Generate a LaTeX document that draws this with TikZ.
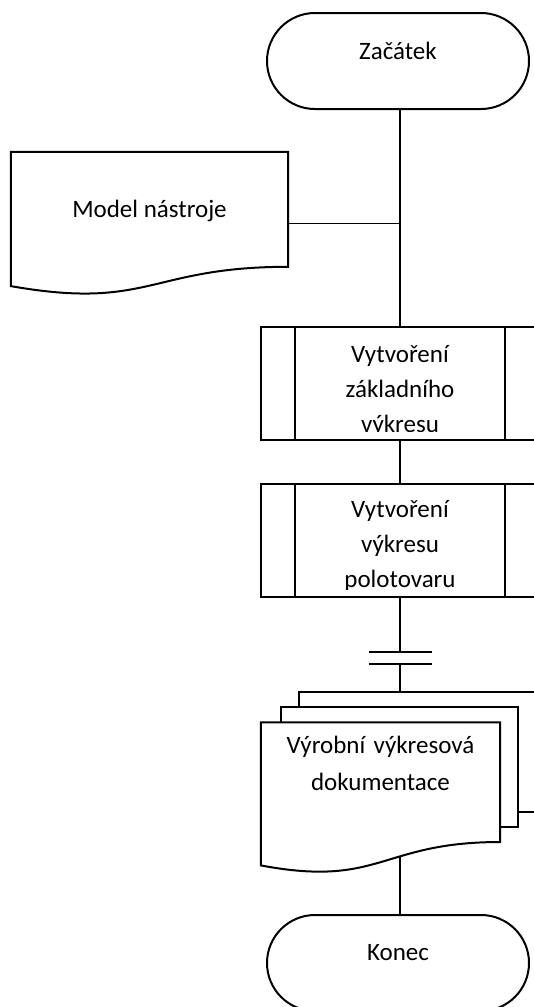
\documentclass[tikz,border=0pt]{standalone}
\usepackage{fontspec}
\setmainfont{Carlito}
\usetikzlibrary{calc}
\tikzset{
  shp/.style={draw,line width=2pt},
  term/.style={shp,rounded corners=48pt,minimum width=262pt,minimum height=96pt,
    inner sep=0pt},
  docbox/.style={inner sep=0pt,minimum width=277pt,minimum height=143.4pt},
  pagebox/.style={inner sep=0pt,minimum width=239pt,minimum height=142.6pt,
    text width=230pt,align=center},
  proc/.style={shp,inner sep=0pt,minimum width=278pt,minimum height=113pt},
  ptext/.style={inner sep=0pt,text width=200pt,align=center},
  wire/.style={line width=2pt},
  thinwire/.style={line width=1pt},
}

\begin{document}
\begin{tikzpicture}[x=1pt,y=-1pt,font=\fontsize{25}{35}\selectfont]
  \useasboundingbox (0,0) rectangle (534,1007);
  \clip (0,0) rectangle (534,1007);

  % terminals and boxes
  \node[term,text height=46pt,text depth=50pt] (start) at (398,61) {Začátek};
  \node[docbox,text height=65pt,text depth=78.4pt] (model) at (149.5,223.7) {Model nástroje};
  \node[proc] (p1) at (400,383.5) {};
  \node[proc] (p2) at (400,540.5) {};
  \node[pagebox,text height=30.4pt,text depth=112.2pt,
    font=\fontsize{25}{37}\selectfont] (vyk) at (380.5,793.9)
    {Výrobní výkresová\\dokumentace};
  \node[term,text height=45pt,text depth=51pt] (end) at (398,963) {Konec};

  % document outline
  \draw[shp] (model.north west) -- (model.north east) -- ++(0,115)
    .. controls ($(model.north)+(0,115)$) and ($(model.north)+(0,158.8)$)
    .. ($(model.south west)+(0,-9.5)$) -- cycle;

  % process side bars and clipped texts
  \foreach \p in {p1,p2}
    \draw[shp] ($(\p.north west)+(34.75,0)$) -- ($(\p.south west)+(34.75,0)$)
      ($(\p.north east)+(-34.75,0)$) -- ($(\p.south east)+(-34.75,0)$);
  \begin{scope}
    \clip ($(p1.north west)+(36,2)$) rectangle ($(p1.south east)+(-36,-10)$);
    \node[ptext,anchor=base] (t1) at ($(p1.north)+(0,36)$)
      {Vytvoření\\základního\\výkresu};
  \end{scope}
  \begin{scope}
    \clip ($(p2.north west)+(36,2)$) rectangle ($(p2.south east)+(-36,-9)$);
    \node[ptext,anchor=base] (t2) at ($(p2.north)+(0,34)$)
      {Vytvoření\\výkresu\\polotovaru};
  \end{scope}

  % multidocument: back, middle, front page
  \draw[shp] ($(vyk.north west)+(38.2,-15.5)$) -- ++(0,-15.1) coordinate (bk)
    -- ++(239.4,0) -- ++(0,119.9) -- ++(-20.6,0);
  \draw[shp] ($(vyk.north west)+(19.7,0)$) -- ++(0,-15.5)
    -- ($(vyk.north east)+(18,-15.5)$) -- ++(0,120.3) -- ++(-18,0);
  \draw[shp] (vyk.north west) -- (vyk.north east) -- ++(0,119.6)
    .. controls ($(vyk.north)+(0,119.6)$) and ($(vyk.north)+(0,165.6)$)
    .. coordinate[pos=0.39] (vykb) (vyk.south west) -- cycle;

  % connectors
  \coordinate (j1) at (p1.north |- model.east);
  \coordinate (g1) at ($(p2.south)+(0,54)$);
  \coordinate (g2) at ($(p2.south)+(0,66)$);
  \draw[wire] (p1.north |- start.south) -- (p1.north);
  \draw[thinwire] (model.east) -- (j1);
  \draw[wire] (p1.south) -- (p2.north);
  \draw[wire] (p2.south) -- (g1);
  \draw[wire] (g2) -- (g2 |- bk);
  \draw[wire] ($(g1)+(-31.5,0)$) -- ($(g1)+(31.5,0)$);
  \draw[wire] ($(g2)+(-31.5,0)$) -- ($(g2)+(31.5,0)$);
  \draw[wire] (end.north -| p1.north) -- (p1.north |- vykb);
\end{tikzpicture}
\end{document}
